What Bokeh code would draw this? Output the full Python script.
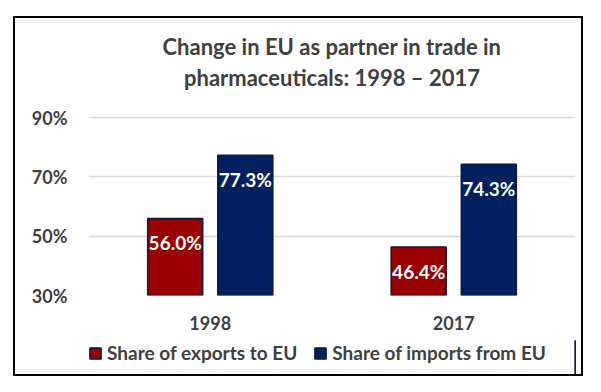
from bokeh.plotting import figure
from bokeh.layouts import column
from bokeh.models import (ColumnDataSource, Legend, LegendItem, Title, FixedTicker, LabelSet,
                          CustomJSTickFormatter)
from bokeh.core.properties import value
from bokeh.transform import dodge
from bokeh.embed import file_html
from bokeh.resources import INLINE

years = ["1998", "2017"]
exports = [56.0, 46.4]
imports = [77.3, 74.3]
y_ticks = [30, 50, 70, 90]
series_names = ["Share of exports to EU", "Share of imports from EU"]
title_lines = ["Change in EU as partner in trade in", "pharmaceuticals: 1998 \u2013 2017"]

FONT = "Lato"
GRAY = "#404040"
RED = "#990000"
NAVY = "#002060"
EDGE = "#0d1a3a"

src = ColumnDataSource(dict(
    year=years,
    exp=exports,
    imp=imports,
    exp_lbl=[f"{v:.1f}%" for v in exports],
    imp_lbl=[f"{v:.1f}%" for v in imports],
))

W = 566
p = figure(x_range=years, y_range=(y_ticks[0], y_ticks[-1] + 0.4), width=W, height=322,
           output_backend="svg", toolbar_location=None,
           min_border_left=73, min_border_right=6, min_border_top=98, min_border_bottom=45)
p.outline_line_color = None
p.background_fill_color = "white"
p.border_fill_color = "white"

# spacer nearest the frame, then the two title lines
p.add_layout(Title(text=" ", text_font=FONT, text_font_size="17px", standoff=2), "above")
for line in reversed(title_lines):
    t = Title(text=line, align="center", text_font=FONT, text_font_size="22px",
              text_font_style="bold", text_color=GRAY, standoff=2)
    p.add_layout(t, "above")

off = 0.144
bw = 0.226
r1 = p.vbar(x=dodge("year", -off, range=p.x_range), top="exp", bottom=y_ticks[0], width=bw, source=src,
            fill_color=RED, line_color=EDGE, line_width=1.5)
r2 = p.vbar(x=dodge("year", off, range=p.x_range), top="imp", bottom=y_ticks[0], width=bw, source=src,
            fill_color=NAVY, line_color=EDGE, line_width=1.5)

for col, lbl, o in [("exp", "exp_lbl", -off), ("imp", "imp_lbl", off)]:
    ls = LabelSet(x=dodge("year", o, range=p.x_range), y=col, text=lbl, source=src,
                  text_align="center", text_baseline="top", y_offset=-13,
                  text_color="white", text_font=value(FONT), text_font_style="bold",
                  text_font_size="19px")
    p.add_layout(ls)

p.yaxis.ticker = FixedTicker(ticks=y_ticks)
p.yaxis.formatter = CustomJSTickFormatter(code="return tick + '%'")
for ax in [p.xaxis[0], p.yaxis[0]]:
    ax.axis_line_color = None
    ax.major_tick_line_color = None
    ax.minor_tick_line_color = None
    ax.major_label_text_font = FONT
    ax.major_label_text_font_style = "bold"
    ax.major_label_text_color = GRAY
p.yaxis.major_label_text_font_size = "18px"
p.xaxis.major_label_text_font_size = "18px"
p.yaxis.major_label_standoff = 15
p.xaxis.major_label_standoff = 14
p.xgrid.grid_line_color = None
p.ygrid.grid_line_color = "#d9d9d9"
p.ygrid.grid_line_width = 1.5

# legend strip below the chart (proxy bars lie outside its visible range)
q = figure(x_range=(0, 1), y_range=(0, 1), width=W, height=34,
           output_backend="svg", toolbar_location=None,
           x_axis_location=None, y_axis_location=None,
           min_border_left=0, min_border_right=0, min_border_top=0, min_border_bottom=0)
q.grid.visible = False
q.outline_line_color = None
q.border_fill_color = "white"
lr1 = q.vbar(x="exp", top="exp", width=0.1, source=src, fill_color=RED, line_color=EDGE, line_width=1.5)
lr2 = q.vbar(x="imp", top="imp", width=0.1, source=src, fill_color=NAVY, line_color=EDGE, line_width=1.5)
legend = Legend(items=[LegendItem(label=series_names[0], renderers=[lr1]),
                       LegendItem(label=series_names[1], renderers=[lr2])],
                orientation="horizontal", location=(0, 10),
                label_text_font=FONT, label_text_font_style="bold", label_text_color=GRAY,
                label_text_font_size="19px", glyph_width=14, glyph_height=14,
                spacing=16, padding=0, margin=0, label_standoff=5,
                border_line_color=None, background_fill_alpha=0)
q.add_layout(legend, "center")

layout = column(p, q, spacing=0, margin=(16, 0, 0, 13),
                styles={"border": "2px solid black", "background": "white"})

open("out.html", "w").write(file_html(layout, INLINE))
